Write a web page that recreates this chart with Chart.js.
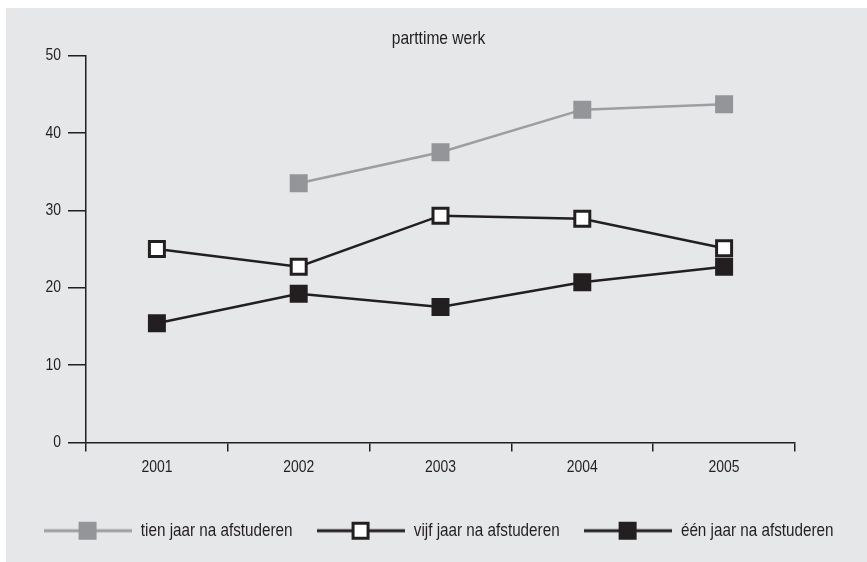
<!DOCTYPE html>
<html>
<head>
<meta charset="utf-8">
<script src="https://cdn.jsdelivr.net/npm/chart.js@4/dist/chart.umd.min.js"></script>
<style>
  html, body { margin: 0; padding: 0; background: #ffffff; }
  #wrap { position: relative; width: 867px; height: 562px; }
</style>
</head>
<body>
<div id="wrap"><canvas id="c"></canvas></div>
<script>
const years = ['2001', '2002', '2003', '2004', '2005'];
const tienJaar = [null, 33.5, 37.5, 43.0, 43.7];
const vijfJaar = [25.0, 22.7, 29.3, 28.9, 25.1];
const eenJaar = [15.4, 19.2, 17.5, 20.7, 22.7];
const seriesNames = ['tien jaar na afstuderen', 'vijf jaar na afstuderen', 'één jaar na afstuderen'];
const yTicks = [0, 10, 20, 30, 40, 50];
const chartTitle = 'parttime werk';

const FONT = "'Liberation Sans', Arial, sans-serif";
const CONDENSE = 0.82; // horizontal text condensing to mimic a narrow typeface
const DARK = '#231f20';
const GREY_LINE = '#9d9ea0';
const GREY_MARK = '#939598';
const PANEL = '#e6e7e8';

const canvas = document.getElementById('c');
const cctx = canvas.getContext('2d');
const protoFill = CanvasRenderingContext2D.prototype.fillText;
const protoMeasure = CanvasRenderingContext2D.prototype.measureText;
cctx.fillText = function (t, x, y) {
  this.save();
  this.translate(x, y);
  this.scale(CONDENSE, 1);
  protoFill.call(this, t, 0, 0);
  this.restore();
};
cctx.measureText = function (t) {
  const m = protoMeasure.call(this, t);
  return {
    width: m.width * CONDENSE,
    actualBoundingBoxAscent: m.actualBoundingBoxAscent,
    actualBoundingBoxDescent: m.actualBoundingBoxDescent,
    actualBoundingBoxLeft: m.actualBoundingBoxLeft * CONDENSE,
    actualBoundingBoxRight: m.actualBoundingBoxRight * CONDENSE,
    fontBoundingBoxAscent: m.fontBoundingBoxAscent,
    fontBoundingBoxDescent: m.fontBoundingBoxDescent
  };
};

function legendIcon(lineColor, fill, border) {
  const cv = document.createElement('canvas');
  cv.width = 88; cv.height = 22;
  const g = cv.getContext('2d');
  g.strokeStyle = lineColor;
  g.lineWidth = 3;
  g.beginPath(); g.moveTo(0, 11); g.lineTo(88, 11); g.stroke();
  g.fillStyle = border;
  g.fillRect(44 - 9, 11 - 9, 18, 18);
  g.fillStyle = fill;
  g.fillRect(44 - 6, 11 - 6, 12, 12);
  return cv;
}
const icons = [
  legendIcon(GREY_LINE, GREY_MARK, GREY_MARK),
  legendIcon(DARK, '#ffffff', DARK),
  legendIcon(DARK, DARK, DARK)
];

const panelPlugin = {
  id: 'panel',
  beforeDraw(chart) {
    const ctx = chart.ctx;
    ctx.save();
    ctx.fillStyle = PANEL;
    ctx.fillRect(6, 8, chart.width - 6, chart.height - 8);
    ctx.restore();
  }
};

new Chart(canvas, {
  type: 'line',
  data: {
    labels: years,
    datasets: [
      {
        label: seriesNames[0], data: tienJaar,
        borderColor: GREY_LINE, borderWidth: 2.5,
        pointStyle: 'rect', pointRadius: 10.6, pointHoverRadius: 10.6,
        pointBackgroundColor: GREY_MARK, pointBorderColor: GREY_MARK, pointBorderWidth: 3,
        tension: 0, spanGaps: false
      },
      {
        label: seriesNames[1], data: vijfJaar,
        borderColor: DARK, borderWidth: 2.5,
        pointStyle: 'rect', pointRadius: 10.6, pointHoverRadius: 10.6,
        pointBackgroundColor: '#ffffff', pointBorderColor: DARK, pointBorderWidth: 3,
        tension: 0
      },
      {
        label: seriesNames[2], data: eenJaar,
        borderColor: DARK, borderWidth: 2.5,
        pointStyle: 'rect', pointRadius: 10.6, pointHoverRadius: 10.6,
        pointBackgroundColor: DARK, pointBorderColor: DARK, pointBorderWidth: 3,
        tension: 0
      }
    ]
  },
  options: {
    responsive: true,
    maintainAspectRatio: false,
    animation: false,
    layout: { padding: { left: 10, right: 0, top: 8, bottom: 12 } },
    plugins: {
      title: {
        display: true, text: chartTitle, color: DARK,
        font: { family: FONT, size: 19, weight: 'normal', lineHeight: 1.2 },
        padding: { top: 19, bottom: 5.7 }
      },
      legend: {
        display: true, position: 'bottom',
        labels: {
          usePointStyle: true, pointStyleWidth: 88,
          color: DARK, padding: 24,
          font: { family: FONT, size: 18.6 },
          generateLabels(chart) {
            return chart.data.datasets.map((ds, i) => ({
              text: ds.label, pointStyle: icons[i], fillStyle: 'transparent',
              strokeStyle: 'transparent', lineWidth: 0, hidden: false, datasetIndex: i, fontColor: DARK
            }));
          }
        }
      },
      tooltip: { enabled: false }
    },
    scales: {
      x: {
        type: 'category', offset: true,
        grid: { offset: true, drawOnChartArea: false, drawTicks: true, tickLength: 9, color: DARK, lineWidth: 1.5 },
        border: { display: true, color: DARK, width: 1.5 },
        ticks: { color: DARK, padding: 6, font: { family: FONT, size: 17 } },
        afterFit(s) { s.height = 55; }
      },
      y: {
        min: 0, max: 50,
        afterBuildTicks(s) { s.ticks = yTicks.map(v => ({ value: v })); },
        grid: { drawOnChartArea: false, drawTicks: true, tickLength: 18, color: DARK, lineWidth: 1.5 },
        border: { display: true, color: DARK, width: 1.5 },
        ticks: { color: DARK, padding: 7, font: { family: FONT, size: 17 } },
        afterFit(s) { s.width = 76; }
      },
      yr: {
        position: 'right', min: 0, max: 50,
        grid: { display: false, drawTicks: false },
        border: { display: false },
        ticks: { display: false },
        afterFit(s) { s.width = 72; }
      }
    }
  },
  plugins: [panelPlugin]
});
</script>
</body>
</html>
